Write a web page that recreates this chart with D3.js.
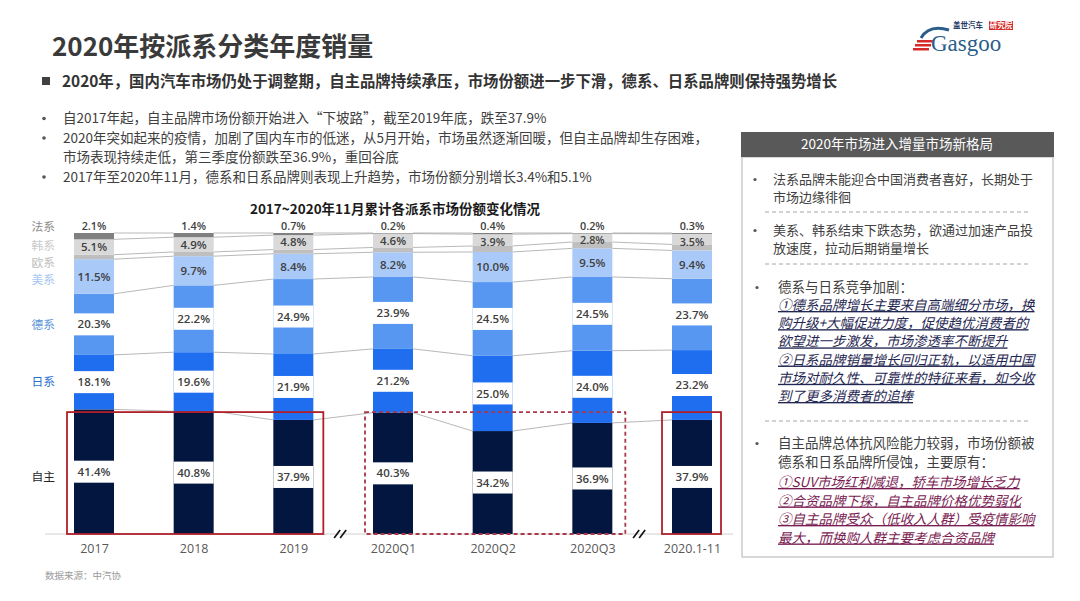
<!DOCTYPE html>
<html>
<head>
<meta charset="utf-8">
<script src="https://cdn.jsdelivr.net/npm/d3@7"></script>
<style>
  body { margin: 0; background: #fff; }
  text { font-family: "Noto Sans CJK SC", "Noto Sans", sans-serif; }
  .num { font-family: "Open Sans", "Noto Sans", sans-serif; }
</style>
</head>
<body>
<div id="chart"></div>
<script>
// Data
var categories = ['2017', '2018', '2019', '2020Q1', '2020Q2', '2020Q3', '2020.1-11'];
var seriesNames = ['自主', '日系', '德系', '美系', '欧系', '韩系', '法系'];
var zizhu = [41.4, 40.8, 37.9, 40.3, 34.2, 36.9, 37.9];
var rixi  = [18.1, 19.6, 21.9, 21.2, 25.0, 24.0, 23.2];
var dexi  = [20.3, 22.2, 24.9, 23.9, 24.5, 24.5, 23.7];
var meixi = [11.5, 9.7, 8.4, 8.2, 10.0, 9.5, 9.4];
var ouxi  = [1.5, 1.4, 1.4, 1.6, 2.0, 2.1, 2.0];   // not labelled, remainder
var hanxi = [5.1, 4.9, 4.8, 4.6, 3.9, 2.8, 3.5];
var faxi  = [2.1, 1.4, 0.7, 0.2, 0.4, 0.2, 0.3];

var bullets = [
    ['自2017年起，自主品牌市场份额开始进入“下坡路”，截至2019年底，跌至37.9%'],
    ['2020年突如起来的疫情，加剧了国内车市的低迷，从5月开始，市场虽然逐渐回暖，但自主品牌却生存困难，',
     '市场表现持续走低，第三季度份额跌至36.9%，重回谷底'],
    ['2017年至2020年11月，德系和日系品牌则表现上升趋势，市场份额分别增长3.4%和5.1%']
];

var width = 1080, height = 601;
var svg = d3.select('#chart').append('svg')
    .attr('width', width)
    .attr('height', height);

// Header
svg.append('text')
    .attr('x', 52).attr('y', 56)
    .attr('font-size', 26).attr('font-weight', 700)
    .attr('fill', '#3a3a3a')
    .text('2020年按派系分类年度销量');

svg.append('rect')
    .attr('x', 42).attr('y', 77).attr('width', 8).attr('height', 8)
    .attr('fill', '#404040');
svg.append('text')
    .attr('x', 62).attr('y', 87)
    .attr('font-size', 15.4).attr('font-weight', 700)
    .attr('fill', '#333')
    .text('2020年，国内汽车市场仍处于调整期，自主品牌持续承压，市场份额进一步下滑，德系、日系品牌则保持强势增长');

// Logo
var logo = svg.append('g').attr('transform', 'translate(915,20)');
[0, 1, 2].forEach(function(i) {
    logo.append('rect')
        .attr('x', 2 - i * 2).attr('y', 20 + i * 4)
        .attr('width', 16).attr('height', 2.5)
        .attr('fill', '#d62a2a');
});
logo.append('path')
    .attr('d', 'M6,18 Q14,4 34,10')
    .attr('fill', 'none').attr('stroke', '#2a5d8a').attr('stroke-width', 3);
logo.append('text')
    .attr('x', 16).attr('y', 31)
    .style('font-family', '"Liberation Serif", "DejaVu Serif", serif')
    .attr('font-size', 23).attr('fill', '#2a5d8a')
    .text('Gasgoo');
logo.append('text')
    .attr('x', 38).attr('y', 8)
    .attr('font-size', 7.5).attr('font-weight', 700).attr('fill', '#1f3a66')
    .text('盖世汽车');
logo.append('rect')
    .attr('x', 74).attr('y', 1).attr('width', 24).attr('height', 9)
    .attr('fill', '#d62a2a');
logo.append('text')
    .attr('x', 86).attr('y', 8).attr('text-anchor', 'middle')
    .attr('font-size', 7.5).attr('font-weight', 700).attr('fill', '#fff')
    .text('研究院');

// Left bullets
var by = 123;
bullets.forEach(function(lines) {
    lines.forEach(function(line, j) {
        if (j === 0) {
            svg.append('circle').attr('cx', 44).attr('cy', by - 4.5).attr('r', 1.8).attr('fill', '#555');
        }
        svg.append('text')
            .attr('x', 63).attr('y', by)
            .attr('font-size', 13.5).attr('fill', '#404040')
            .text(line);
        by += 19.5;
    });
});

// Chart
var margin = {top: 233, bottom: 534};
var xScale = d3.scalePoint().domain(categories).range([94, 692]);
var yScale = d3.scaleLinear().domain([0, 100]).range([margin.bottom, margin.top]);
var barW = 40;

var colors = {
    '自主': '#03163f', '日系': '#1f6ef0', '德系': '#5797f2', '美系': '#a9c9f8',
    '欧系': '#bfbfbf', '韩系': '#d9d9d9', '法系': '#808080'
};
var labelColors = {
    '自主': '#262626', '日系': '#2a6fd0', '德系': '#5b95d8', '美系': '#a6c6f2',
    '欧系': '#bdbdbd', '韩系': '#c9c9c9', '法系': '#8c8c8c'
};

var values = {'自主': zizhu, '日系': rixi, '德系': dexi, '美系': meixi, '欧系': ouxi, '韩系': hanxi, '法系': faxi};
var table = categories.map(function(c, i) {
    var row = {cat: c};
    seriesNames.forEach(function(s) { row[s] = values[s][i]; });
    return row;
});
var stacked = d3.stack().keys(seriesNames)(table);

svg.append('text')
    .attr('x', 395).attr('y', 214).attr('text-anchor', 'middle')
    .attr('font-size', 13.5).attr('font-weight', 700).attr('fill', '#1a1a1a')
    .text('2017~2020年11月累计各派系市场份额变化情况');

// baseline
svg.append('line')
    .attr('x1', 45).attr('x2', 733)
    .attr('y1', yScale(0)).attr('y2', yScale(0))
    .attr('stroke', '#d0d0d0').attr('stroke-width', 1);

// connector lines between adjacent bars
var conn = svg.append('g').attr('class', 'connectors');
stacked.forEach(function(layer) {
    for (var i = 0; i < categories.length - 1; i++) {
        conn.append('line')
            .attr('x1', xScale(categories[i]) + barW / 2)
            .attr('x2', xScale(categories[i + 1]) - barW / 2)
            .attr('y1', yScale(layer[i][1]))
            .attr('y2', yScale(layer[i + 1][1]))
            .attr('stroke', '#a6a6a6').attr('stroke-width', 0.8);
    }
});

// bars
var layers = svg.append('g').selectAll('g')
    .data(stacked).enter().append('g')
    .attr('fill', function(d) { return colors[d.key]; });

layers.selectAll('rect')
    .data(function(d) { return d; })
    .enter().append('rect')
    .attr('x', function(d) { return xScale(d.data.cat) - barW / 2; })
    .attr('y', function(d) { return yScale(d[1]); })
    .attr('width', barW)
    .attr('height', function(d) { return yScale(d[0]) - yScale(d[1]); });

// value labels
var boxed = ['自主', '日系', '德系'];
stacked.forEach(function(layer) {
    var key = layer.key;
    if (key === '欧系') return;
    layer.forEach(function(d) {
        var cx = xScale(d.data.cat);
        var cy = (yScale(d[0]) + yScale(d[1])) / 2;
        var fs = 11.5;
        if (key === '法系') { cy = yScale(d[1]) - 7; fs = 10.8; }
        if (key === '韩系' && d.data[key] < 4) { cy += 2.5; fs = 10.8; }
        if (boxed.indexOf(key) >= 0) {
            svg.append('rect')
                .attr('x', cx - barW / 2).attr('y', cy - 11)
                .attr('width', barW).attr('height', 22)
                .attr('fill', '#fff');
        }
        svg.append('text')
            .attr('class', 'num')
            .attr('x', cx).attr('y', cy).attr('dy', '0.36em')
            .attr('text-anchor', 'middle')
            .attr('font-size', fs).attr('font-weight', 600)
            .attr('fill', '#404040')
            .text(d3.format('.1f')(d.data[key]) + '%');
    });
});

// series names on the left, next to the first bar
var nameShift = {'法系': -9, '韩系': -1, '欧系': 6, '美系': 3.5, '自主': 5};
stacked.forEach(function(layer) {
    var d = layer[0];
    svg.append('text')
        .attr('x', 55).attr('text-anchor', 'end')
        .attr('y', (yScale(d[0]) + yScale(d[1])) / 2 + (nameShift[layer.key] || 0))
        .attr('dy', '0.36em')
        .attr('font-size', 11.8)
        .attr('fill', labelColors[layer.key])
        .text(layer.key);
});

// highlight boxes
var boxTop = yScale(40.5);
var boxes = [
    {from: '2017', to: '2019', l: 27, r: 30, dash: null},
    {from: '2020Q1', to: '2020Q3', l: 28, r: 33, dash: '4,3'},
    {from: '2020.1-11', to: '2020.1-11', l: 30, r: 29, dash: null}
];
boxes.forEach(function(b) {
    var x0 = xScale(b.from) - b.l, x1 = xScale(b.to) + b.r;
    svg.append('rect')
        .attr('x', x0).attr('y', boxTop)
        .attr('width', x1 - x0).attr('height', yScale(0) - boxTop)
        .attr('fill', 'none')
        .attr('stroke', b.dash ? '#a8384a' : '#b0202a')
        .attr('stroke-width', 1.8)
        .attr('stroke-dasharray', b.dash);
});

// axis break marks
[['2019', '2020Q1'], ['2020Q3', '2020.1-11']].forEach(function(p) {
    var mx = (xScale(p[0]) + xScale(p[1])) / 2 - 3;
    [-3, 3].forEach(function(o) {
        svg.append('line')
            .attr('x1', mx + o - 3).attr('x2', mx + o + 3)
            .attr('y1', yScale(0) + 4).attr('y2', yScale(0) - 4)
            .attr('stroke', '#111').attr('stroke-width', 1.6);
    });
});

// x axis labels
var xAxis = d3.axisBottom(xScale).tickSize(0).tickPadding(10);
var xg = svg.append('g')
    .attr('transform', 'translate(0,' + yScale(0) + ')')
    .call(xAxis);
xg.select('.domain').remove();
xg.selectAll('text')
    .attr('class', 'num')
    .attr('font-size', 12.5)
    .attr('fill', '#595959');

svg.append('text')
    .attr('x', 45).attr('y', 579)
    .attr('font-size', 9.5).attr('fill', '#9a9a9a')
    .text('数据来源：中汽协');

// Right panel
var panel = svg.append('g');
panel.append('rect')
    .attr('x', 742).attr('y', 157).attr('width', 311).attr('height', 400)
    .attr('fill', '#fff').attr('stroke', '#bfbfbf').attr('stroke-width', 1.2);
panel.append('rect')
    .attr('x', 741).attr('y', 132).attr('width', 313).attr('height', 25)
    .attr('fill', '#595959');
panel.append('text')
    .attr('x', 897).attr('y', 149).attr('text-anchor', 'middle')
    .attr('font-size', 13.5).attr('fill', '#fff')
    .text('2020年市场进入增量市场新格局');

var panelItems = [
    {dot: 755, x: 773, y: 184, lh: 17.5, fs: 13, lines: ['法系品牌未能迎合中国消费者喜好，长期处于', '市场边缘徘徊']},
    {sep: 212},
    {dot: 755, x: 773, y: 235, lh: 17.5, fs: 13, lines: ['美系、韩系结束下跌态势，欲通过加速产品投', '放速度，拉动后期销量增长']},
    {sep: 264},
    {dot: 757, x: 778, y: 292, lh: 18, lines: ['德系与日系竞争加剧：']},
    {x: 778, y: 310, lh: 18.2, style: 'sub', color: '#1f2752', lines: [
        '①德系品牌增长主要来自高端细分市场，换',
        '购升级+大幅促进力度，促使趋优消费者的',
        '欲望进一步激发，市场渗透率不断提升',
        '②日系品牌销量增长回归正轨，以适用中国',
        '市场对耐久性、可靠性的特征来看，如今收',
        '到了更多消费者的追捧']},
    {sep: 421},
    {dot: 757, x: 778, y: 448, lh: 19, lines: ['自主品牌总体抗风险能力较弱，市场份额被', '德系和日系品牌所侵蚀，主要原有：']},
    {x: 778, y: 487, lh: 18.5, style: 'sub', color: '#7a1c52', lines: [
        '①SUV市场红利减退，轿车市场增长乏力',
        '②合资品牌下探，自主品牌价格优势弱化',
        '③自主品牌受众（低收入人群）受疫情影响',
        '最大，而换购人群主要考虑合资品牌']}
];
panelItems.forEach(function(it) {
    if (it.sep) {
        panel.append('line')
            .attr('x1', 765).attr('x2', 1030)
            .attr('y1', it.sep).attr('y2', it.sep)
            .attr('stroke', '#a6a6a6').attr('stroke-width', 1)
            .attr('stroke-dasharray', '4,3');
        return;
    }
    if (it.dot) {
        panel.append('circle').attr('cx', it.dot).attr('cy', it.y - 4.5).attr('r', 1.6).attr('fill', '#555');
    }
    it.lines.forEach(function(line, j) {
        var t = panel.append('text')
            .attr('x', it.x).attr('y', it.y + j * it.lh)
            .attr('font-size', it.fs || 13.5)
            .attr('fill', it.color || '#404040')
            .text(line);
        if (it.style === 'sub') {
            t.attr('font-style', 'italic')
             .attr('text-decoration', 'underline');
        }
    });
});
</script>
</body>
</html>
